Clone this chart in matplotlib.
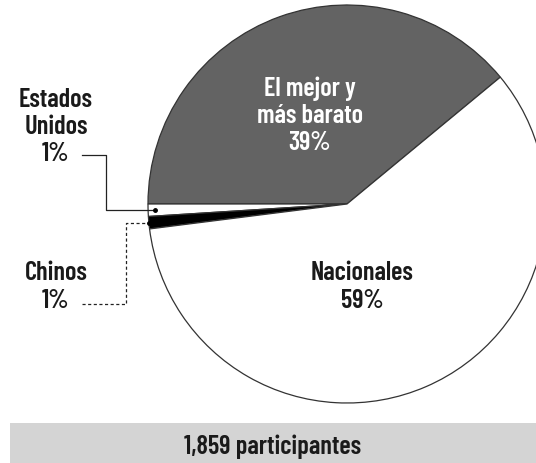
import matplotlib
matplotlib.use("Agg")
import matplotlib.pyplot as plt
from matplotlib.patches import Rectangle
import numpy as np

categories = ["El mejor y\nmás barato", "Estados\nUnidos", "Chinos", "Nacionales"]
values = [39, 1, 1, 59]
colors = ["#636363", "#ffffff", "#000000", "#ffffff"]
footer = "1,859 participantes"

FONT = ["Barlow Condensed", "DejaVu Sans"]
TXT = "#1a1a1a"
FS = 19
LS = 1.16
WT = 600

W, H = 536, 464
fig = plt.figure(figsize=(W / 100, H / 100), dpi=100)
ax = fig.add_axes([0, 0, 1, 1])

cx, cy, r = 347, H - 205, 199
start = 39.6
wedges, _ = ax.pie(values, colors=colors, startangle=start, counterclock=True,
                   center=(cx, cy), radius=r, frame=True,
                   wedgeprops=dict(edgecolor="#333333", linewidth=0.9))
ax.set_xlim(0, W)
ax.set_ylim(0, H)
ax.set_aspect("equal")
ax.axis("off")

def fmt(v):
    return f"{v}%"

kw = dict(ha="center", va="center", fontsize=FS, fontweight=WT,
          family=FONT, linespacing=LS)

# inside labels
ax.text(310, H - 116, f"{categories[0]}\n{fmt(values[0])}", color="white", **kw)
ax.text(362, H - 287, f"{categories[3]}\n{fmt(values[3])}", color=TXT, **kw)

# outside labels
ax.text(56, H - 127, f"{categories[1]}\n{fmt(values[1])}", color=TXT, **kw)
ax.text(56, H - 287, f"{categories[2]}\n{fmt(values[2])}", color=TXT, **kw)

# leader lines (dots placed on the wedges)
cum = np.cumsum([0] + values)
def point_on(i, frac_r):
    a = np.deg2rad(start + 3.6 * (cum[i] + cum[i + 1]) / 2)
    return cx + frac_r * r * np.cos(a), cy + frac_r * r * np.sin(a)

ux, uy = point_on(1, 0.965)
ax.plot([82, 106, 106, ux], [H - 156, H - 156, uy, uy], color="#222222", lw=0.9)
ax.plot([ux], [uy], "o", color="black", ms=2.5)

chx, chy = point_on(2, 1.0)
ax.plot([82, 126, 126, chx], [H - 305, H - 305, chy, chy], color="#222222",
        lw=0.9, ls=(0, (2.5, 2)))
ax.plot([chx], [chy], "o", color="black", ms=2.5)

# footer band
ax.add_patch(Rectangle((10, 0), W - 10, H - 424, facecolor="#d4d4d4",
                       edgecolor="none", zorder=0))
ax.text(273, H - 447, footer, color=TXT, ha="center", va="center",
        fontsize=FS, fontweight=WT, family=FONT)

fig.savefig("out.png", dpi=100)
